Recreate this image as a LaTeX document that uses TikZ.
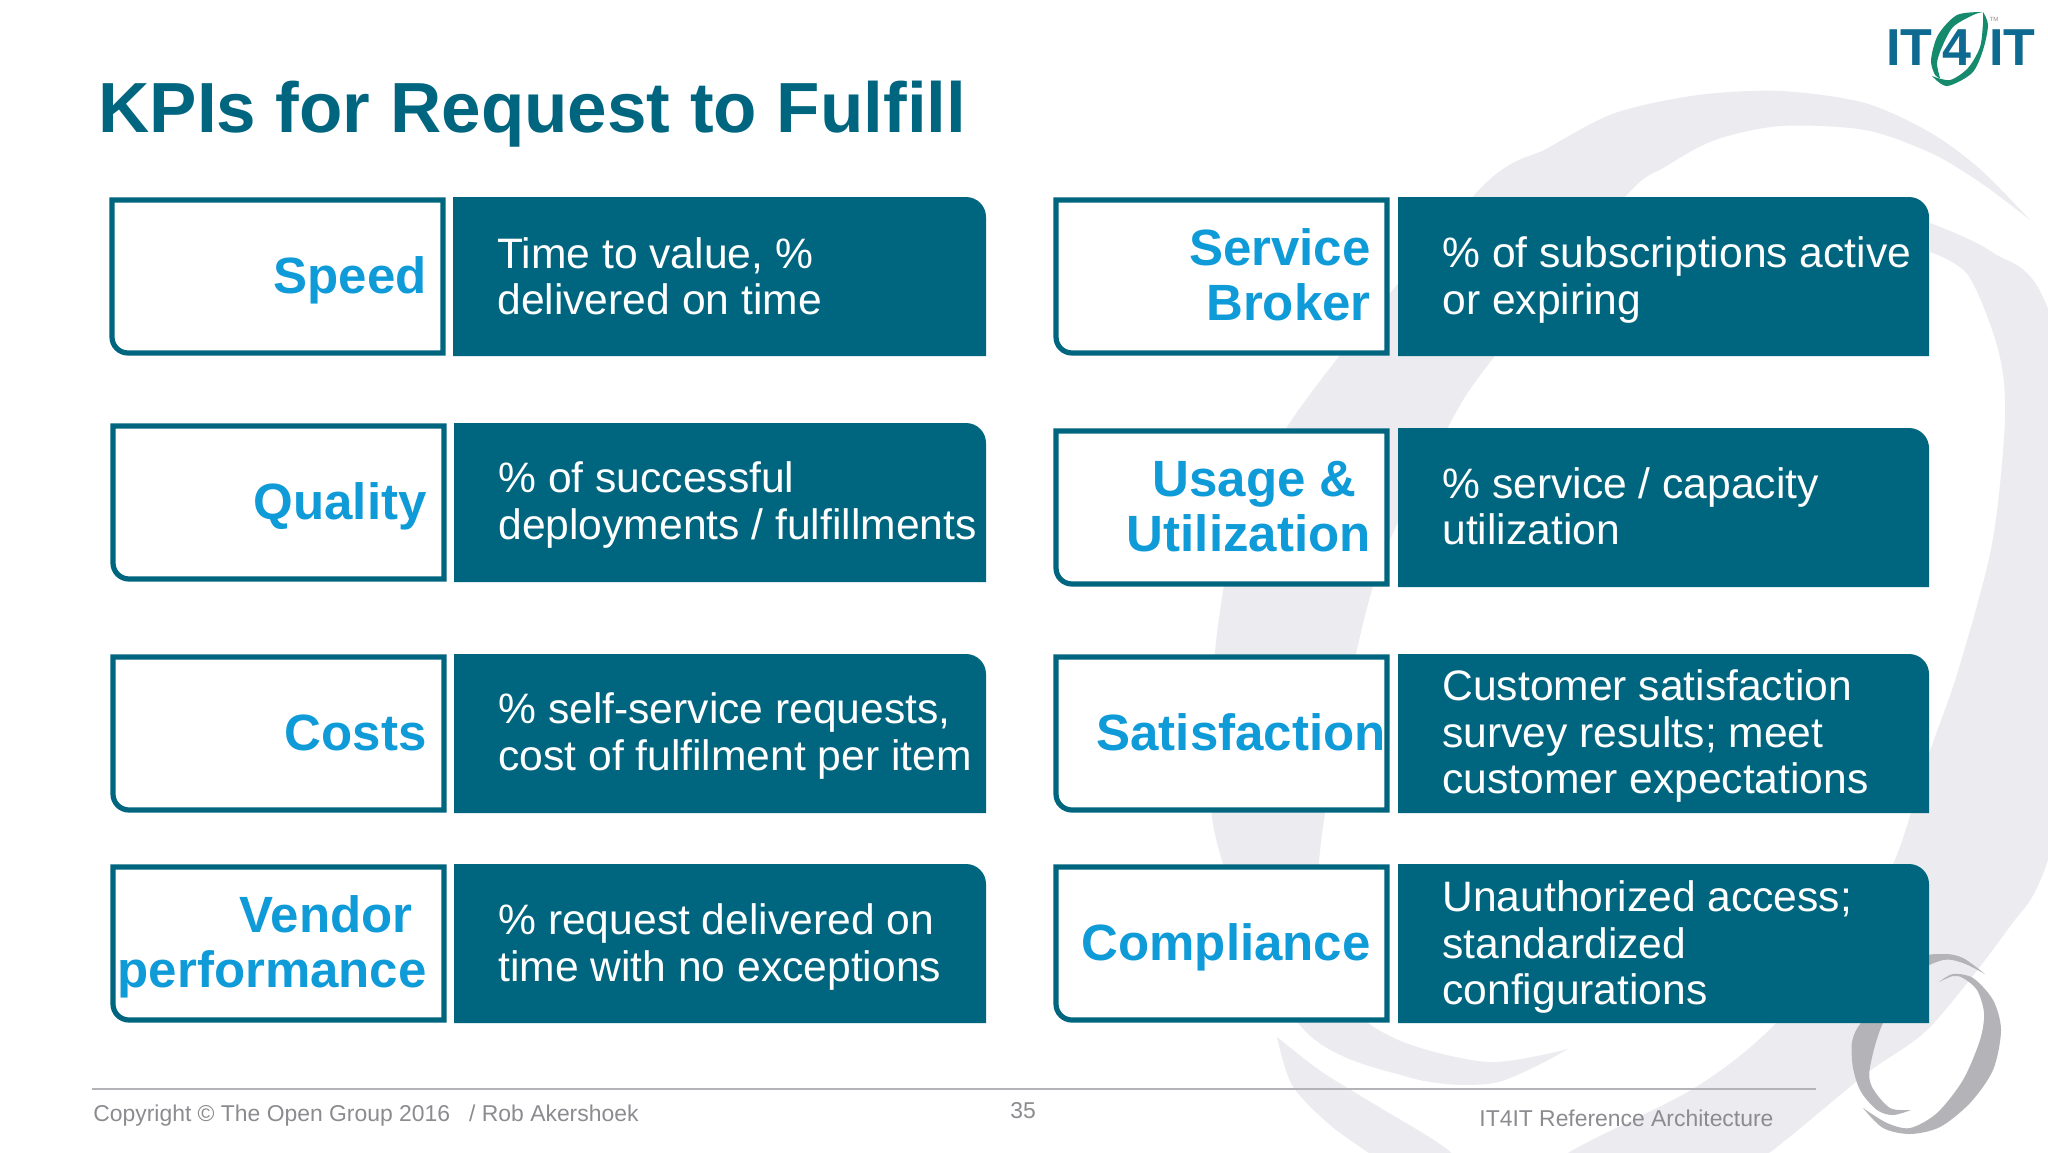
\documentclass[tikz,border=0pt]{standalone}
\usepackage{fontspec}
\setmainfont{Liberation Sans}
\definecolor{tealbox}{HTML}{00667F}
\definecolor{bluelabel}{HTML}{0F9AD8}
\definecolor{swooshgrey}{HTML}{ECECF0}
\definecolor{ogrey}{HTML}{B4B4B8}
\definecolor{footgrey}{HTML}{8C8C90}
\definecolor{logoblue}{HTML}{0E6A90}
\definecolor{logogreen}{HTML}{158A6C}

\begin{document}
\begin{tikzpicture}[x=0.5pt,y=-0.5pt,
    kpibox/.style = {draw=tealbox, line width=2.6pt, fill=white},
    kpifill/.style = {fill=tealbox},
    kpilabel/.style = {anchor=east, align=right, inner sep=0pt,
      text=bluelabel, font=\fontsize{25.5}{27.5}\selectfont\bfseries},
    kpitext/.style = {anchor=west, align=left, inner sep=0pt,
      text=white, font=\fontsize{21.3}{23.2}\selectfont},
    foot/.style = {inner sep=0pt, text=footgrey, font=\fontsize{11.45}{14}\selectfont}]
    \clip (0,0) rectangle (2048,1152);
    \fill[white] (0,0) rectangle (2048,1152);
    % background swooshes
    \fill[swooshgrey] plot[smooth] coordinates {(2030,220) (1981,170) (1931,133) (1865,103) (1781,91) (1698,95) (1615,113) (1548,148) (1476,193) (1287,427) (1224,586) (1213,824) (1299,1024) (1408,1077) (1494,1083) (1568,1049)}
      -- plot[smooth] coordinates {(1568,1049) (1488,1062) (1396,1039) (1345,994) (1319,862) (1373,586) (1448,427) (1494,357) (1625,197) (1665,167) (1715,140) (1781,126) (1865,130) (1931,153) (1981,183) (2030,220)} -- cycle;
    \fill[swooshgrey] plot[smooth] coordinates {(1930,223) (1992,252) (2048,309) (2120,600) (2048,860) (2008,929) (1930,1027) (1867,1073) (1773,1150) (1700,1200)}
      -- plot[smooth] coordinates {(1500,1200) (1573,1150) (1696,1087) (1776,1023) (1854,920) (1894,862) (1930,751) (1958,671) (1992,544) (2005,418) (1998,349) (1968,275) (1930,252)} -- cycle;
    \fill[swooshgrey] plot[smooth] coordinates {(1277,1037) (1292,1085) (1330,1125) (1379,1160) (1420,1190)}
      -- plot[smooth] coordinates {(1480,1190) (1448,1150) (1379,1107) (1322,1072) (1277,1037)} -- cycle;
    % small O
    \fill[ogrey] plot[smooth] coordinates {(1985,974) (1963,958) (1943,954) (1915,962) (1858,1027) (1852,1060) (1860,1090) (1877,1110) (1893,1115) (1911,1110)}
      -- plot[smooth] coordinates {(1911,1110) (1890,1108) (1872,1087) (1870,1067) (1883,1023) (1915,975) (1943,960) (1963,963) (1985,974)} -- cycle;
    \fill[ogrey] plot[smooth] coordinates {(1939,982) (1953,974) (1973,978) (1993,1000) (2001,1030) (1993,1070) (1970,1103) (1940,1127) (1910,1134) (1883,1128) (1863,1108)}
      -- plot[smooth] coordinates {(1863,1108) (1887,1123) (1910,1128) (1937,1113) (1963,1080) (1980,1040) (1984,1013) (1977,990) (1963,978) (1953,976) (1939,982)} -- cycle;

    \node (title) [anchor=west, inner sep=0pt, text=tealbox, font=\fontsize{35.5}{40}\selectfont\bfseries] at (98,114) {KPIs for Request to Fulfill};

    % logo
    \fill[logogreen] plot[smooth] coordinates {(1983,12) (1957,15) (1938,35) (1931,60) (1935,75) (1940,78)}
      -- plot[smooth] coordinates {(1940,78) (1937,63) (1942,47) (1953,27) (1973,15) (1983,12)} -- cycle;
    \fill[logogreen] plot[smooth] coordinates {(1983,12) (1988,25) (1983,50) (1972,73) (1947,86) (1932,76)}
      -- plot[smooth] coordinates {(1932,76) (1950,80) (1968,68) (1980,47) (1983,23) (1983,12)} -- cycle;
    \node (logoleft) [anchor=east, inner sep=0pt, text=logoblue, font=\fontsize{26}{28}\selectfont\bfseries] at (1933,48) {IT};
    \node (logofour) [inner sep=0pt, text=logoblue, font=\fontsize{26}{28}\selectfont\bfseries] at (1957,48) {4};
    \node (logoright) [anchor=west, inner sep=0pt, text=logoblue, font=\fontsize{26}{28}\selectfont\bfseries] at (1989,48) {IT};
    \node (logotm) [inner sep=0pt, text=footgrey, font=\fontsize{3}{3}\selectfont] at (1994,19) {TM};

    % left column
    \draw[kpibox] (112,200) -- (443,200) -- (443,353) [rounded corners=8pt] -- (112,353) [sharp corners] -- cycle;
    \fill[kpifill] (453,197) [rounded corners=10pt] -- (986,197) [sharp corners] -- (986,356) -- (453,356) -- cycle;
    \node (speed) [kpilabel] at (427,280) {Speed};
    \node (speedtext) [kpitext] at (497,276) {Time to value, \%\\delivered on time};

    \draw[kpibox] (113,426) -- (444,426) -- (444,579) [rounded corners=8pt] -- (113,579) [sharp corners] -- cycle;
    \fill[kpifill] (454,423) [rounded corners=10pt] -- (986,423) [sharp corners] -- (986,582) -- (454,582) -- cycle;
    \node (quality) [kpilabel] at (427,506) {Quality};
    \node (qualitytext) [kpitext] at (498,505) {\% of successful\\deployments / fulfillments};

    \draw[kpibox] (113,657) -- (444,657) -- (444,810) [rounded corners=8pt] -- (113,810) [sharp corners] -- cycle;
    \fill[kpifill] (454,654) [rounded corners=10pt] -- (986,654) [sharp corners] -- (986,813) -- (454,813) -- cycle;
    \node (costs) [kpilabel] at (427,733) {Costs};
    \node (coststext) [kpitext] at (498,736) {\% self-service requests,\\cost of fulfilment per item};

    \draw[kpibox] (113,867) -- (444,867) -- (444,1020) [rounded corners=8pt] -- (113,1020) [sharp corners] -- cycle;
    \fill[kpifill] (454,864) [rounded corners=10pt] -- (986,864) [sharp corners] -- (986,1023) -- (454,1023) -- cycle;
    \node (vendor) [kpilabel] at (427,947) {Vendor\hspace*{7pt}\\performance};
    \node (vendortext) [kpitext] at (498,947) {\% request delivered on\\time with no exceptions};

    % right column
    \draw[kpibox] (1056,200) -- (1387,200) -- (1387,353) [rounded corners=8pt] -- (1056,353) [sharp corners] -- cycle;
    \fill[kpifill] (1398,197) [rounded corners=10pt] -- (1929,197) [sharp corners] -- (1929,356) -- (1398,356) -- cycle;
    \node (broker) [kpilabel] at (1371,275) {Service\\Broker};
    \node (brokertext) [kpitext] at (1442,280) {\% of subscriptions active\\or expiring};

    \draw[kpibox] (1056,431) -- (1387,431) -- (1387,584) [rounded corners=8pt] -- (1056,584) [sharp corners] -- cycle;
    \fill[kpifill] (1398,428) [rounded corners=10pt] -- (1929,428) [sharp corners] -- (1929,587) -- (1398,587) -- cycle;
    \node (usage) [kpilabel] at (1371,507) {Usage \&\hspace*{7pt}\\Utilization};
    \node (usagetext) [kpitext] at (1442,506) {\% service / capacity\\utilization};

    \draw[kpibox] (1056,657) -- (1387,657) -- (1387,810) [rounded corners=8pt] -- (1056,810) [sharp corners] -- cycle;
    \fill[kpifill] (1398,654) [rounded corners=10pt] -- (1929,654) [sharp corners] -- (1929,813) -- (1398,813) -- cycle;
    \node (satisfaction) [kpilabel] at (1386,732) {Satisfaction};
    \node (satisfactiontext) [kpitext] at (1442,736) {Customer satisfaction\\survey results; meet\\customer expectations};

    \draw[kpibox] (1056,867) -- (1387,867) -- (1387,1020) [rounded corners=8pt] -- (1056,1020) [sharp corners] -- cycle;
    \fill[kpifill] (1398,864) [rounded corners=10pt] -- (1929,864) [sharp corners] -- (1929,1023) -- (1398,1023) -- cycle;
    \node (compliance) [kpilabel] at (1371,947) {Compliance};
    \node (compliancetext) [kpitext] at (1442,947) {Unauthorized access;\\standardized\\configurations};

    % footer
    \coordinate (ruleleft) at (92,1089);
    \coordinate (ruleright) at (1816,1089);
    \draw[ogrey, line width=0.7pt] (ruleleft) -- (ruleright);
    \node (copyright) [foot, anchor=west] at (93,1116) {Copyright © The Open Group 2016 \ \ / Rob Akershoek};
    \node (pagenum) [foot] at (1023,1111) {35};
    \node (refarch) [foot, anchor=west] at (1479,1118) {IT4IT Reference Architecture};
\end{tikzpicture}
\end{document}
